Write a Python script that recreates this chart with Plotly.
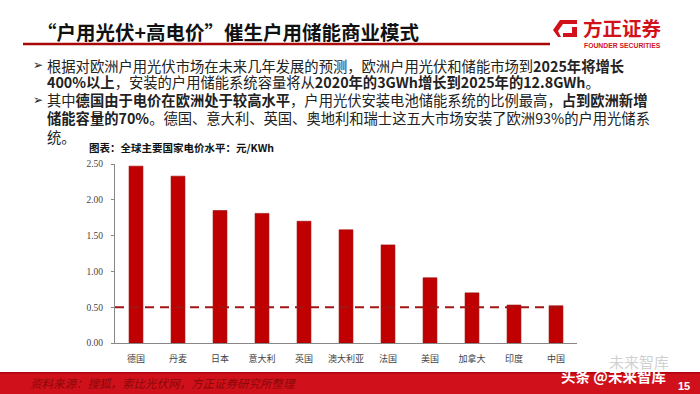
import plotly.graph_objects as go

# ---- data ----
countries = ["德国", "丹麦", "日本", "意大利", "英国", "澳大利亚", "法国", "美国", "加拿大", "印度", "中国"]
prices = [2.47, 2.33, 1.85, 1.81, 1.70, 1.58, 1.37, 0.91, 0.70, 0.53, 0.52]
reference_price = [0.5]
y_ticks = [0.0, 0.5, 1.0, 1.5, 2.0, 2.5]
y_tick_labels = ["0.00", "0.50", "1.00", "1.50", "2.00", "2.50"]

CJK = "Noto Sans CJK SC"
RED = "#C00000"

fig = go.Figure()
fig.add_trace(go.Bar(
    x=countries, y=prices,
    marker=dict(color=RED, line=dict(color="#9a0000", width=0.6)),
    width=0.33, showlegend=False, hoverinfo="skip",
))

def px(x):
    return (x - 115) / 462
def py(y):
    return (343 - y) / 179

shapes = []
# dashed reference line
shapes.append(dict(type="line", xref="paper", yref="y", x0=0, x1=0.967,
                   y0=reference_price[0], y1=reference_price[0],
                   line=dict(color="#a31515", width=2, dash="9px,6px")))
# title underline
shapes.append(dict(type="line", xref="paper", yref="paper",
                   x0=px(23), x1=px(550), y0=py(44), y1=py(44),
                   line=dict(color="#a80808", width=2.5)))
# bottom red band
shapes.append(dict(type="rect", xref="paper", yref="paper",
                   x0=px(-2), x1=px(702), y0=py(396), y1=py(372),
                   fillcolor="#d0101a", line=dict(width=0), layer="below"))
shapes.append(dict(type="rect", xref="paper", yref="paper",
                   x0=px(-2), x1=px(702), y0=py(373.5), y1=py(372),
                   fillcolor="#b00010", line=dict(width=0), layer="below"))
# logo frame
path = (f"M {px(577)},{py(20)} L {px(560)},{py(20)} L {px(553)},{py(30)} L {px(558)},{py(37)} "
        f"L {px(561)},{py(37)} L {px(558)},{py(31)} L {px(563)},{py(24)} L {px(577)},{py(24)} Z")
shapes.append(dict(type="path", xref="paper", yref="paper", path=path,
                   fillcolor="#d1121b", line=dict(width=0)))
path2 = (f"M {px(572)},{py(27)} L {px(577)},{py(27)} L {px(577)},{py(37)} L {px(563)},{py(37)} "
         f"L {px(563)},{py(33)} L {px(572)},{py(33)} Z")
shapes.append(dict(type="path", xref="paper", yref="paper", path=path2,
                   fillcolor="#d1121b", line=dict(width=0)))

annotations = []
def text(x, y, s, size=13, color="#222", bold=False, family=CJK, anchor="left", italic=False):
    if bold:
        s = f"<b>{s}</b>"
    if italic:
        s = f"<i>{s}</i>"
    annotations.append(dict(xref="paper", yref="paper", x=px(x), y=py(y), text=s,
                            showarrow=False, xanchor=anchor, yanchor="middle",
                            font=dict(family=family, size=size, color=color)))

text(35, 31, "“户用光伏+高电价”催生户用储能商业模式", size=19.5, color="#111", bold=True)
text(581, 28, "方正证券", size=19.5, color="#d1121b", bold=True)
text(582, 45, "FOUNDER SECURITIES", size=6.8, color="#d1121b", bold=True, family="Liberation Sans")

FS = 14.3
text(31, 65, "➢", size=12, color="#222", family="DejaVu Sans")
text(45, 65, "根据对欧洲户用光伏市场在未来几年发展的预测，欧洲户用光伏和储能市场到<b>2025年将增长</b>", size=FS)
text(45, 82, "<b>400%以上</b>，安装的户用储能系统容量将从<b>2020年的3GWh增长到2025年的12.8GWh</b>。", size=FS)
text(31, 100, "➢", size=12, color="#222", family="DejaVu Sans")
text(45, 100, "其中<b>德国由于电价在欧洲处于较高水平</b>，户用光伏安装电池储能系统的比例最高，<b>占到欧洲新增</b>", size=FS)
text(45, 118, "<b>储能容量的70%</b>。德国、意大利、英国、奥地利和瑞士这五大市场安装了欧洲93%的户用光储系", size=FS)
text(45, 136, "统。", size=FS)
text(87, 147, "图表：全球主要国家电价水平：元/KWh", size=10.5, color="#111", bold=True)

text(28, 383, "资料来源：搜狐，索比光伏网，方正证券研究所整理", size=11.5, color="#8a0808", italic=True)
text(607, 361, "未来智库", size=15, color="rgba(200,200,200,0.85)")
text(559, 375, "头条 @未来智库", size=14.5, color="white", bold=True)
text(692, 386, "15", size=11, color="white", bold=True, anchor="right", family="Liberation Sans")

fig.update_layout(
    width=700, height=394,
    margin=dict(l=115, r=123, t=164, b=51),
    paper_bgcolor="white", plot_bgcolor="white",
    shapes=shapes, annotations=annotations,
    xaxis=dict(showline=True, linecolor="#888", linewidth=1, ticks="",
               tickfont=dict(family=CJK, size=9, color="#444"), showgrid=False,
               range=[-0.5, 10.5], ticklabelstandoff=7),
    yaxis=dict(range=[0, 2.5], tickvals=y_ticks, ticktext=y_tick_labels,
               showline=True, linecolor="#888", linewidth=1, ticks="outside",
               ticklen=3, tickcolor="#888", showgrid=False, zeroline=False,
               ticklabelstandoff=6,
               tickfont=dict(family="Liberation Serif", size=9.5, color="#444")),
)

fig.write_html("out.html", config={"displayModeBar": False},
               post_script="document.body.style.margin='0px';")
